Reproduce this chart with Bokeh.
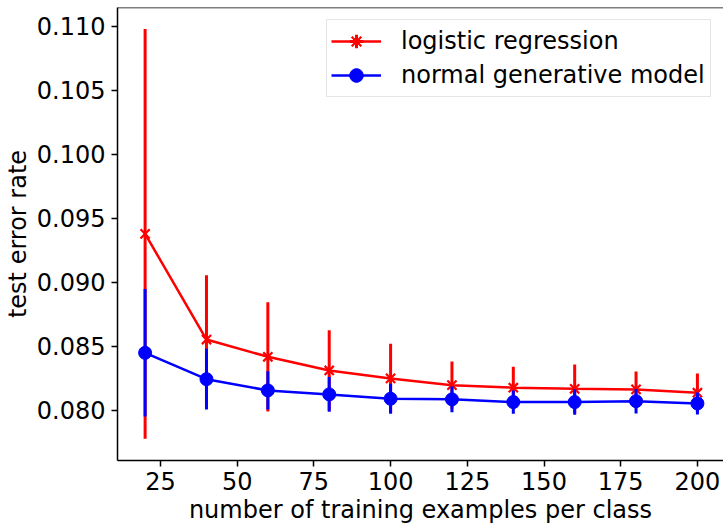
import numpy as np
from bokeh.plotting import figure
from bokeh.models import (Range1d, FixedTicker, NumeralTickFormatter, Legend,
                          LegendItem, ColumnDataSource, Span)
from bokeh.embed import file_html
from bokeh.resources import INLINE

# ---- data ----
n_train = [20, 40, 60, 80, 100, 120, 140, 160, 180, 200]
logreg_mean = [0.09378, 0.08552, 0.08417, 0.08310, 0.08248, 0.08195, 0.08175, 0.08167, 0.08162, 0.08136]
logreg_err = [0.01602, 0.00503, 0.00427, 0.00315, 0.00270, 0.00185, 0.00164, 0.00190, 0.00140, 0.00151]
gen_mean = [0.08448, 0.08242, 0.08154, 0.08123, 0.08089, 0.08084, 0.08063, 0.08063, 0.08070, 0.08052]
gen_err = [0.00498, 0.00237, 0.00150, 0.00136, 0.00117, 0.00100, 0.00091, 0.00100, 0.00096, 0.00086]
x_ticks = [25, 50, 75, 100, 125, 150, 175, 200]
y_ticks = [0.080, 0.085, 0.090, 0.095, 0.100, 0.105, 0.110]

FONT = "DejaVu Sans"
FS = "24px"
Y_END = 0.11148

p = figure(width=723, height=526, output_backend="svg", toolbar_location=None,
           x_range=Range1d(11, 208.5), y_range=Range1d(0.07606, Y_END),
           min_border_left=117, min_border_top=7, min_border_bottom=65,
           min_border_right=0, background_fill_color="white",
           border_fill_color="white")
p.xgrid.visible = False
p.ygrid.visible = False
p.outline_line_color = None
p.add_layout(Span(location=Y_END, dimension="width", line_color="black",
                  line_width=1.5))

for ax in (p.xaxis[0], p.yaxis[0]):
    ax.axis_line_color = "black"
    ax.axis_line_width = 1.5
    ax.major_tick_line_color = "black"
    ax.major_tick_line_width = 1.5
    ax.major_tick_in = 0
    ax.major_tick_out = 6
    ax.minor_tick_line_color = None
    ax.major_label_text_font = FONT
    ax.major_label_text_font_size = FS
    ax.major_label_text_color = "black"
    ax.axis_label_text_font = FONT
    ax.axis_label_text_font_size = FS
    ax.axis_label_text_font_style = "normal"
    ax.axis_label_text_color = "black"

p.xaxis.ticker = FixedTicker(ticks=x_ticks)
p.yaxis.ticker = FixedTicker(ticks=y_ticks)
p.yaxis.formatter = NumeralTickFormatter(format="0.000")
p.xaxis.axis_label = "number of training examples per class"
p.yaxis.axis_label = "test error rate"
p.xaxis.major_label_standoff = 5
p.yaxis.major_label_standoff = 6
p.xaxis.axis_label_standoff = 3
p.yaxis.axis_label_standoff = 2

items = []
for mean, err, color, marker, name in [
        (logreg_mean, logreg_err, "red", "x", "logistic regression"),
        (gen_mean, gen_err, "blue", "circle", "normal generative model")]:
    lo = [m - e for m, e in zip(mean, err)]
    hi = [m + e for m, e in zip(mean, err)]
    src = ColumnDataSource(dict(x=n_train, y=mean, lo=lo, hi=hi))
    p.segment(x0="x", y0="lo", x1="x", y1="hi", source=src,
              line_color=color, line_width=3)
    lr = p.line("x", "y", source=src, line_color=color, line_width=2.5)
    if marker == "x":
        mr = p.scatter("x", "y", source=src, marker="x", size=13,
                       line_color=color, line_width=2.2)
    else:
        mr = p.scatter("x", "y", source=src, marker="circle", size=13,
                       fill_color=color, line_color=color)
    # legend-only vertical bar (matplotlib shows the error bar in the key)
    dummy = p.scatter([float("nan")], [float("nan")], marker="cross", size=14,
                      line_color=color, line_width=3)
    items.append(LegendItem(label=name, renderers=[lr, mr, dummy]))

legend = Legend(items=items, location="top_right")
legend.margin = 12
legend.padding = 4
legend.spacing = 0
legend.glyph_width = 50
legend.glyph_height = 34
legend.label_height = 34
legend.label_width = 305
legend.label_standoff = 20
legend.label_text_font = FONT
legend.label_text_font_size = FS
legend.label_text_color = "black"
legend.border_line_color = "#cccccc"
legend.border_line_width = 1.5
legend.background_fill_alpha = 0.8
p.add_layout(legend, "center")

open("out.html", "w").write(file_html(p, INLINE))
